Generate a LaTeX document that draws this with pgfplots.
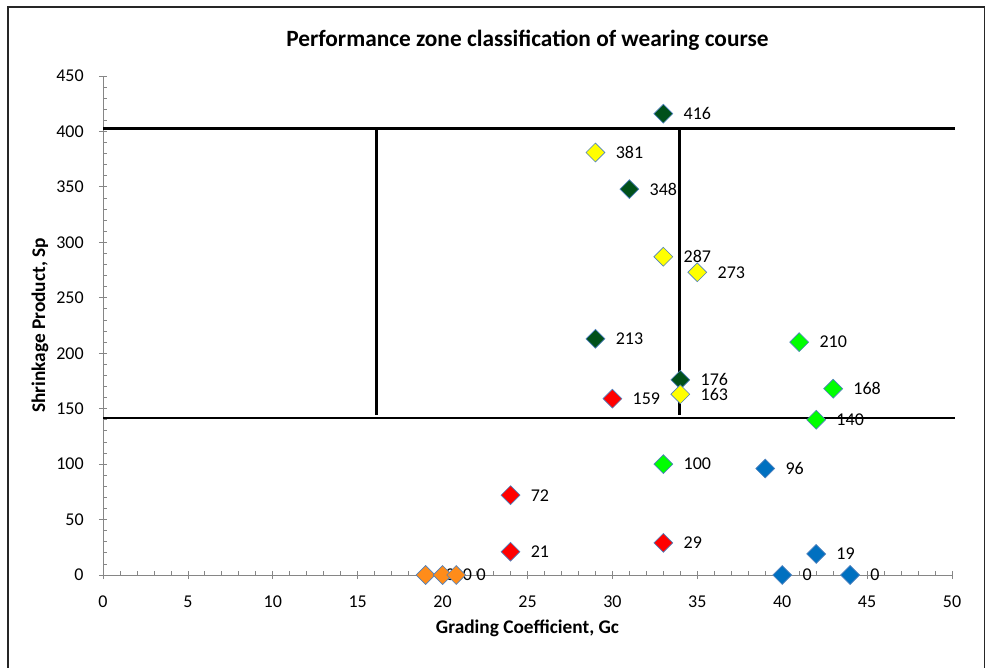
\documentclass[border=0pt]{standalone}
\usepackage{pgfplots}
\pgfplotsset{compat=1.18}
\usepackage{fontspec}
\setmainfont{Carlito}
\definecolor{axgray}{HTML}{868686}
\definecolor{dkgreen}{HTML}{00501A}
\definecolor{ylw}{HTML}{FFFF00}
\definecolor{lime}{HTML}{00FF00}
\definecolor{rd}{HTML}{FF0000}
\definecolor{bl}{HTML}{0070C0}
\definecolor{orng}{HTML}{FF8C1A}
\definecolor{edge}{HTML}{4F81BD}

\pgfplotsset{dpt/.style={only marks, mark=square*, mark size=5pt,
     mark options={rotate=45, fill=#1, draw=edge, line width=0.5pt},
     nodes near coords, point meta=explicit symbolic,
     every node near coord/.style={anchor=west, inner sep=0pt, xshift=15pt, font=\fontsize{13.5}{15}\selectfont, black}}}

\pgfplotstableread{
x y label
33 416 416
31 348 348
29 213 213
34 176 176
}\dkgreendata
\pgfplotstableread{
x y label
29 381 381
33 287 287
35 273 273
34 163 163
}\yellowdata
\pgfplotstableread{
x y label
41 210 210
43 168 168
42 140 140
33 100 100
}\limedata
\pgfplotstableread{
x y label
30 159 159
24 72 72
24 21 21
33 29 29
}\reddata
\pgfplotstableread{
x y label
39 96 96
42 19 19
40 0 0
44 0 0
}\bluedata
\pgfplotstableread{
x y label
19 0 0
20 0 0
20.8 0 0
}\orangedata

\begin{document}
\begin{tikzpicture}
\useasboundingbox (0,0) rectangle (739.5pt,-501pt);
\begin{scope}
\clip (0,0) rectangle (739.5pt,-501pt);
\draw[line width=0.8pt, black!85] (6pt,-5.25pt) rectangle (738.6pt,-510pt);
\end{scope}
\begin{axis}[
  at={(77.25pt,-431.25pt)}, anchor=south west,
  scale only axis, width=636.75pt, height=374.25pt,
  xmin=0, xmax=50, ymin=0, ymax=450,
  axis x line*=bottom, axis y line*=left,
  axis line style={axgray, line width=0.6pt},
  xtick={0,5,...,50}, ytick={0,50,...,450},
  minor x tick num=4, minor y tick num=4,
  tick align=center,
  major tick length=6pt, minor tick length=3pt,
  major tick style={axgray, line width=0.6pt},
  minor tick style={axgray, line width=0.6pt},
  minor x tick style={yshift=1.5pt},
  minor y tick style={xshift=1.5pt},
  /pgf/number format/assume math mode=true,
  tick label style={font=\fontsize{13.5}{15}\selectfont, black},
  xticklabel style={yshift=-9pt},
  yticklabel style={xshift=-8pt},
  title={Performance zone classification of wearing course},
  title style={font=\fontsize{17.5}{20}\selectfont\bfseries, at={(axis description cs:0.5,1.0562)}, anchor=center},
  xlabel={Grading Coefficient, Gc},
  ylabel={Shrinkage Product, Sp},
  xlabel style={font=\fontsize{14.5}{17}\selectfont\bfseries, at={(axis description cs:0.5,-0.1062)}, anchor=center},
  ylabel style={font=\fontsize{14.5}{17}\selectfont\bfseries, at={(axis description cs:-0.0742,0.5)}, anchor=center},
  clip=false,
]
\addplot[dpt=dkgreen] table[x=x,y=y,meta=label] {\dkgreendata};
\addplot[dpt=ylw] table[x=x,y=y,meta=label] {\yellowdata};
\addplot[dpt=lime] table[x=x,y=y,meta=label] {\limedata};
\addplot[dpt=rd] table[x=x,y=y,meta=label] {\reddata};
\addplot[dpt=bl] table[x=x,y=y,meta=label] {\bluedata};
\addplot[dpt=orng] table[x=x,y=y,meta=label] {\orangedata};
% zone boundary lines
\addplot[black, line width=2.1pt, no marks, sharp plot] coordinates {(0,403) (50.15,403)};
\addplot[black, line width=2.1pt, no marks, sharp plot] coordinates {(0,141.5) (50.15,141.5)};
\addplot[black, line width=2.1pt, no marks, sharp plot] coordinates {(16.1,403) (16.1,144)};
\addplot[black, line width=2.1pt, no marks, sharp plot] coordinates {(33.95,403) (33.95,144)};
\end{axis}
\end{tikzpicture}
\end{document}
